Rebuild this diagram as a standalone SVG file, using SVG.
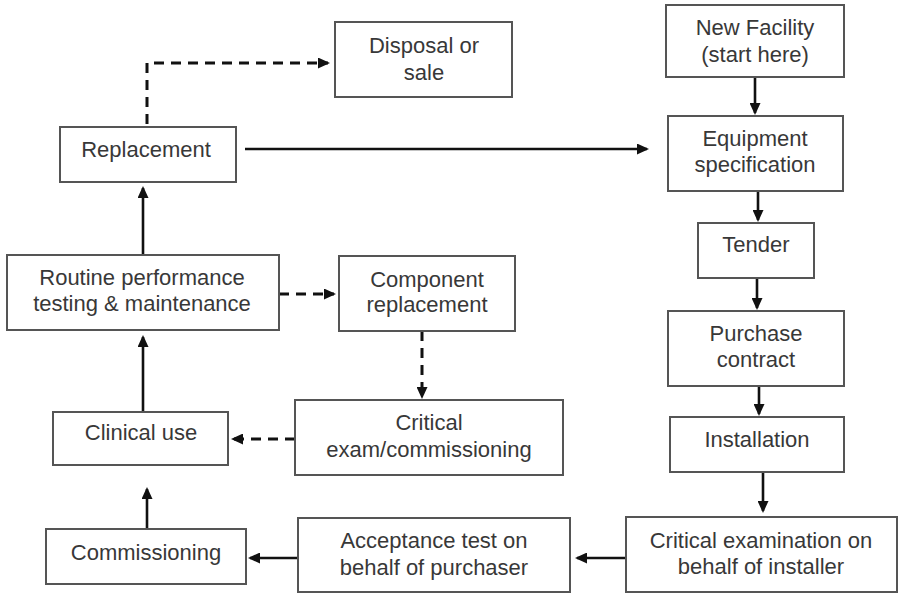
<svg xmlns="http://www.w3.org/2000/svg" width="899" height="594" viewBox="0 0 899 594">
  <style>
    .box { fill: #ffffff; stroke: #555555; stroke-width: 2; }
    .lbl { font-family: "Liberation Sans", Arial, sans-serif; font-size: 22px; fill: #383838; text-anchor: middle; }
    .edge { fill: none; stroke: #111111; stroke-width: 2.6; marker-end: url(#arrow); }
    .dash { stroke-width: 3; stroke-dasharray: 10 7; }
  </style>
  <defs>
    <marker id="arrow" markerUnits="userSpaceOnUse" markerWidth="12" markerHeight="11" viewBox="0 0 12 11" refX="10" refY="5.5" orient="auto">
      <path d="M0,0 L12,5.5 L0,11 z" fill="#111111"/>
    </marker>
  </defs>
  <rect width="899" height="594" fill="#ffffff"/>

  <!-- connectors -->
  <g id="connectors">
    <path class="edge" d="M755,77 V113"/>
    <path class="edge" d="M245,149 H647"/>
    <path class="edge" d="M758,191 V220"/>
    <path class="edge" d="M757,278 V308"/>
    <path class="edge" d="M759,386 V414"/>
    <path class="edge" d="M763,472 V511"/>
    <path class="edge" d="M626,558 H577"/>
    <path class="edge" d="M298,558 H250"/>
    <path class="edge" d="M147,529 V489"/>
    <path class="edge" d="M143,412 V337"/>
    <path class="edge" d="M143,255 V188"/>
    <path class="edge dash" d="M147,124 V63 H328"/>
    <path class="edge dash" d="M279,294 H334"/>
    <path class="edge dash" d="M422,331 V397"/>
    <path class="edge dash" d="M295,439 H233"/>
  </g>

  <g id="disposal">
    <rect class="box" x="335" y="22" width="177" height="75"/>
    <text class="lbl" x="424" y="53">Disposal or</text>
    <text class="lbl" x="424" y="80">sale</text>
  </g>
  <g id="new-facility">
    <rect class="box" x="666" y="5" width="178" height="72"/>
    <text class="lbl" x="755" y="35">New Facility</text>
    <text class="lbl" x="755" y="62">(start here)</text>
  </g>
  <g id="equipment-spec">
    <rect class="box" x="668" y="116" width="175" height="75"/>
    <text class="lbl" x="755" y="146">Equipment</text>
    <text class="lbl" x="755" y="172">specification</text>
  </g>
  <g id="replacement">
    <rect class="box" x="60" y="127" width="176" height="55"/>
    <text class="lbl" x="146" y="157">Replacement</text>
  </g>
  <g id="tender">
    <rect class="box" x="698" y="223" width="116" height="55"/>
    <text class="lbl" x="756" y="252">Tender</text>
  </g>
  <g id="purchase-contract">
    <rect class="box" x="668" y="311" width="176" height="75"/>
    <text class="lbl" x="756" y="341">Purchase</text>
    <text class="lbl" x="756" y="367">contract</text>
  </g>
  <g id="installation">
    <rect class="box" x="670" y="417" width="174" height="55"/>
    <text class="lbl" x="757" y="447">Installation</text>
  </g>
  <g id="routine">
    <rect class="box" x="7" y="255" width="272" height="75"/>
    <text class="lbl" x="142" y="285">Routine performance</text>
    <text class="lbl" x="142" y="311">testing &amp; maintenance</text>
  </g>
  <g id="component">
    <rect class="box" x="339" y="256" width="176" height="75"/>
    <text class="lbl" x="427" y="287">Component</text>
    <text class="lbl" x="427" y="312">replacement</text>
  </g>
  <g id="clinical-use">
    <rect class="box" x="53" y="412" width="175" height="53"/>
    <text class="lbl" x="141" y="440">Clinical use</text>
  </g>
  <g id="critical-commissioning">
    <rect class="box" x="295" y="400" width="268" height="75"/>
    <text class="lbl" x="429" y="430">Critical</text>
    <text class="lbl" x="429" y="457">exam/commissioning</text>
  </g>
  <g id="commissioning">
    <rect class="box" x="46" y="529" width="200" height="55"/>
    <text class="lbl" x="146" y="560">Commissioning</text>
  </g>
  <g id="acceptance">
    <rect class="box" x="298" y="518" width="272" height="74"/>
    <text class="lbl" x="434" y="548">Acceptance test on</text>
    <text class="lbl" x="434" y="575">behalf of purchaser</text>
  </g>
  <g id="critical-installer">
    <rect class="box" x="626" y="517" width="271" height="75"/>
    <text class="lbl" x="761" y="548">Critical examination on</text>
    <text class="lbl" x="761" y="574">behalf of installer</text>
  </g>
</svg>
